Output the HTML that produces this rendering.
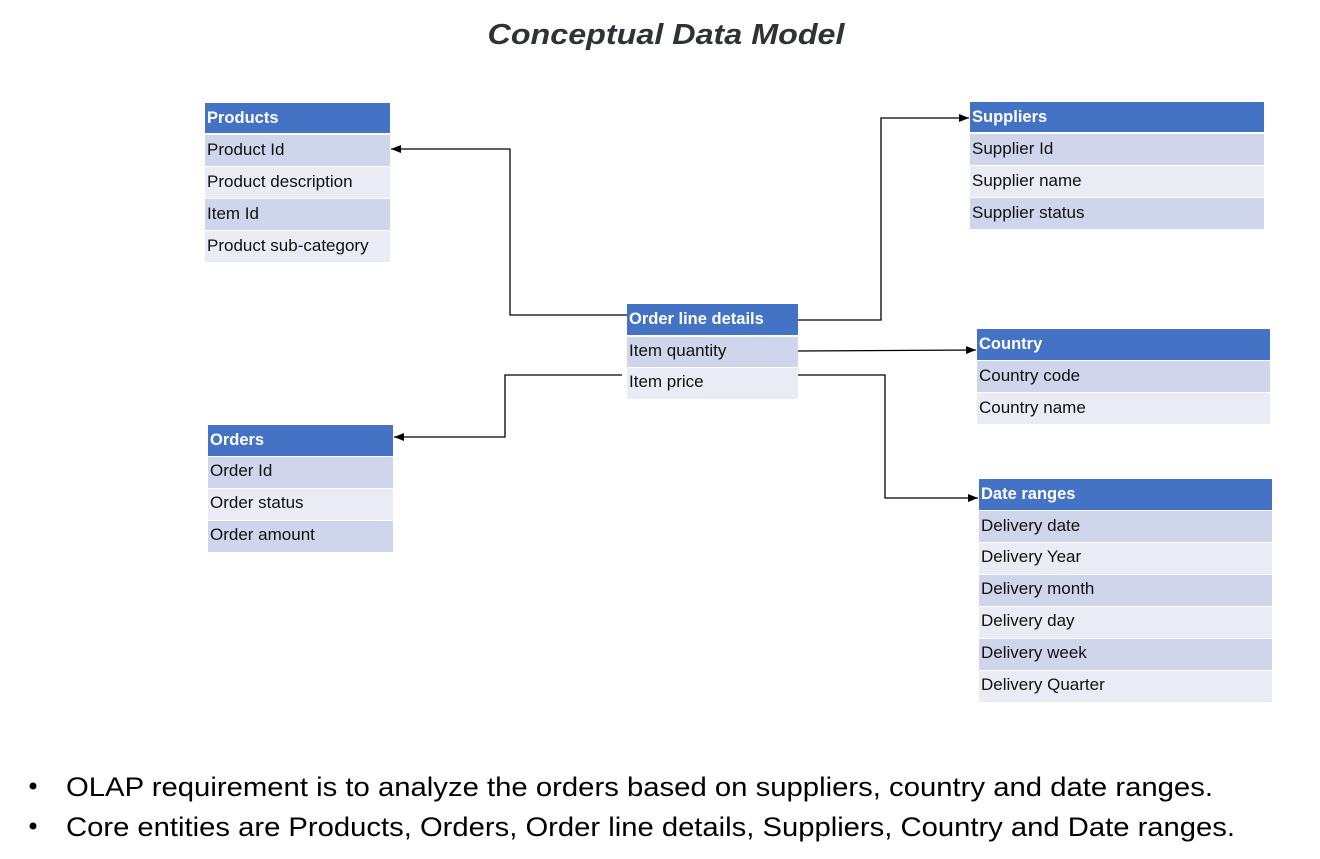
<!DOCTYPE html>
<html><head><meta charset="utf-8"><style>
html,body{margin:0;padding:0;background:#fff;width:1320px;height:859px;overflow:hidden}
svg{display:block}
text{font-family:"Liberation Sans",sans-serif}
.h{fill:#fff;font-weight:bold;font-size:16.5px}
.r{fill:#111;font-size:17px}
</style></head><body>
<svg width="1320" height="859" viewBox="0 0 1320 859" xmlns="http://www.w3.org/2000/svg">
<defs><marker id="a" markerWidth="10" markerHeight="8" refX="10" refY="4" orient="auto" markerUnits="userSpaceOnUse"><path d="M0,0 L10,4 L0,8 z" fill="#000"/></marker></defs>
<text x="666" y="44" text-anchor="middle" font-size="29" font-weight="bold" font-style="italic" fill="#2f3338" textLength="357" lengthAdjust="spacingAndGlyphs">Conceptual Data Model</text>

<rect x="205" y="103" width="185" height="30" fill="#4472C4"/><text class="h" x="207" y="123">Products</text>
<rect x="205" y="135" width="185" height="31" fill="#CFD5EA"/><text class="r" x="207" y="155">Product Id</text>
<rect x="205" y="167" width="185" height="31" fill="#E9EBF5"/><text class="r" x="207" y="187">Product description</text>
<rect x="205" y="199" width="185" height="31" fill="#CFD5EA"/><text class="r" x="207" y="219">Item Id</text>
<rect x="205" y="231" width="185" height="31" fill="#E9EBF5"/><text class="r" x="207" y="251">Product sub-category</text>

<rect x="970" y="102" width="294" height="30" fill="#4472C4"/><text class="h" x="972" y="122">Suppliers</text>
<rect x="970" y="134" width="294" height="31" fill="#CFD5EA"/><text class="r" x="972" y="154">Supplier Id</text>
<rect x="970" y="166" width="294" height="31" fill="#E9EBF5"/><text class="r" x="972" y="186">Supplier name</text>
<rect x="970" y="198" width="294" height="31" fill="#CFD5EA"/><text class="r" x="972" y="218">Supplier status</text>

<rect x="627" y="304" width="171" height="31" fill="#4472C4"/><text class="h" x="629" y="324">Order line details</text>
<rect x="627" y="337" width="171" height="30" fill="#CFD5EA"/><text class="r" x="629" y="356">Item quantity</text>
<rect x="627" y="368" width="171" height="31" fill="#E9EBF5"/><text class="r" x="629" y="387">Item price</text>

<rect x="977" y="329" width="293" height="31" fill="#4472C4"/><text class="h" x="979" y="349">Country</text>
<rect x="977" y="361" width="293" height="31" fill="#CFD5EA"/><text class="r" x="979" y="381">Country code</text>
<rect x="977" y="393" width="293" height="31" fill="#E9EBF5"/><text class="r" x="979" y="413">Country name</text>

<rect x="208" y="425" width="185" height="31" fill="#4472C4"/><text class="h" x="210" y="445">Orders</text>
<rect x="208" y="457" width="185" height="31" fill="#CFD5EA"/><text class="r" x="210" y="476">Order Id</text>
<rect x="208" y="489" width="185" height="31" fill="#E9EBF5"/><text class="r" x="210" y="508">Order status</text>
<rect x="208" y="521" width="185" height="31" fill="#CFD5EA"/><text class="r" x="210" y="540">Order amount</text>

<rect x="979" y="479" width="293" height="31" fill="#4472C4"/><text class="h" x="981" y="499">Date ranges</text>
<rect x="979" y="511" width="293" height="31" fill="#CFD5EA"/><text class="r" x="981" y="531">Delivery date</text>
<rect x="979" y="543" width="293" height="31" fill="#E9EBF5"/><text class="r" x="981" y="562">Delivery Year</text>
<rect x="979" y="575" width="293" height="31" fill="#CFD5EA"/><text class="r" x="981" y="594">Delivery month</text>
<rect x="979" y="607" width="293" height="31" fill="#E9EBF5"/><text class="r" x="981" y="626">Delivery day</text>
<rect x="979" y="639" width="293" height="31" fill="#CFD5EA"/><text class="r" x="981" y="658">Delivery week</text>
<rect x="979" y="671" width="293" height="31" fill="#E9EBF5"/><text class="r" x="981" y="690">Delivery Quarter</text>

<g fill="none" stroke="#000" stroke-width="1.3">
<polyline points="627,315 510,315 510,149 391,149" marker-end="url(#a)"/>
<polyline points="798,320 881,320 881,118 969,118" marker-end="url(#a)"/>
<polyline points="798,351 976,350" marker-end="url(#a)"/>
<polyline points="622,375 505,375 505,437 394,437" marker-end="url(#a)"/>
<polyline points="798,375 885,375 885,498 978,498" marker-end="url(#a)"/>
</g>

<circle cx="33" cy="786" r="3.5" fill="#000"/>
<circle cx="33" cy="826" r="3.5" fill="#000"/>
<text x="66" y="796" font-size="27" fill="#000" textLength="1147" lengthAdjust="spacingAndGlyphs">OLAP requirement is to analyze the orders based on suppliers, country and date ranges.</text>
<text x="66" y="836" font-size="27" fill="#000" textLength="1169" lengthAdjust="spacingAndGlyphs">Core entities are Products, Orders, Order line details, Suppliers, Country and Date ranges.</text>
</svg>
</body></html>
